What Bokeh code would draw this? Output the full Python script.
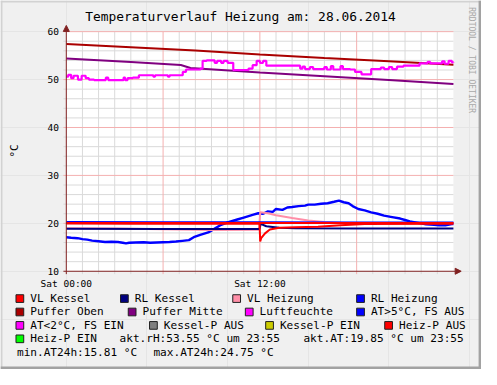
import math
from bokeh.plotting import figure
from bokeh.models import Label, BoxAnnotation, Arrow, NormalHead, Range1d
from bokeh.embed import file_html
from bokeh.resources import INLINE

# ---------------- data (hours of 28.06.2014, °C / %) ----------------
title_text = "Temperaturverlauf Heizung am: 28.06.2014"
y_label_text = "°C"
watermark_text = "RRDTOOL / TOBI OETIKER"
x_tick_hours = [0, 12]
x_tick_labels = ["Sat 00:00", "Sat 12:00"]
x_major_grid = [6, 12, 18]
x_minor_grid = [h for h in range(1, 24) if h % 6]
y_ticks = [10, 20, 30, 40, 50, 60]
y_minor_grid = [v for v in range(12, 60, 2) if v % 10]

h_puffer_oben = [0, 4, 8, 12, 16, 20, 24]
puffer_oben = [57.4, 56.75, 56.05, 55.25, 54.5, 53.8, 53.1]

h_puffer_mitte = [0, 4, 7.1, 7.7, 12, 16, 20, 24]
puffer_mitte = [54.4, 53.65, 53.05, 52.4, 51.5, 50.7, 49.9, 49.1]

h_luft = [0.00, 0.12, 0.30, 0.45, 0.72, 0.95, 1.20, 1.40, 1.72, 2.45, 2.60, 3.55,
          3.65, 3.80, 4.12, 4.50, 5.40, 5.50, 6.30, 6.40, 7.22, 7.42, 8.32, 8.45,
          8.70, 9.20, 9.35, 9.60, 9.75, 10.00, 10.35, 11.30, 11.55, 11.80, 12.00,
          12.20, 12.40, 14.50, 14.65, 14.80, 15.10, 15.30, 16.00, 16.15, 16.40,
          16.55, 17.00, 17.15, 17.60, 17.90, 18.30, 18.90, 19.50, 19.70, 20.00,
          20.20, 20.50, 20.90, 21.90, 22.40, 22.55, 23.00, 23.30, 23.45, 23.70,
          23.90, 24.00]
luftfeuchte = [50.6, 51.0, 50.3, 50.8, 50.0, 50.8, 50.3, 50.0, 49.9, 50.4, 49.9, 50.4,
               49.9, 50.3, 50.4, 50.9, 50.6, 50.9, 50.6, 50.9, 51.6, 52.1, 52.3, 53.9,
               54.0, 53.5, 53.9, 53.5, 53.9, 53.5, 52.0, 52.3, 53.0, 53.9, 53.5,
               53.9, 52.9, 52.3, 52.7, 52.2, 52.6, 52.2, 52.6, 52.1, 52.8,
               52.1, 52.8, 52.2, 52.1, 51.6, 51.1, 52.2, 52.5, 52.2, 52.6,
               52.2, 52.7, 52.9, 53.4, 53.7, 53.4, 53.4, 53.8, 53.3, 53.9,
               53.6, 53.55]

h_at = [0.0, 0.3, 0.7, 1.0, 1.3, 1.6, 2.0, 2.4, 2.8, 3.2, 3.5, 3.7, 3.9, 4.3, 4.8,
        5.2, 5.6, 6.0, 6.4, 6.8, 7.2, 7.6, 7.9, 8.3, 8.8, 9.2, 9.6, 10.0, 10.6, 11.0,
        11.6, 11.9, 12.2, 12.5, 12.8, 13.0, 13.4, 13.7, 14.0, 14.4, 14.8, 15.0, 15.4,
        15.8, 16.2, 16.6, 16.9, 17.2, 17.5, 17.75, 18.1, 18.5, 18.9, 19.3, 19.7, 20.2,
        20.7, 21.0, 21.3, 21.8, 22.3, 22.8, 23.1, 23.5, 23.9, 24.0]
aussen_temp = [17.1, 17.0, 16.9, 16.7, 16.6, 16.4, 16.25, 16.1, 16.15, 16.1, 15.95, 15.81,
               15.95, 16.0, 16.05, 15.95, 16.0, 16.05, 16.1, 16.2, 16.35, 16.5, 17.1, 17.6,
               18.1, 18.9, 19.7, 20.2, 20.8, 21.2, 21.8, 22.1, 22.0, 22.5, 22.4, 23.0,
               22.8, 23.3, 23.4, 23.6, 23.7, 23.9, 23.9, 24.1, 24.2, 24.5, 24.75, 24.4,
               24.2, 23.6, 23.0, 22.7, 22.3, 22.0, 21.6, 21.3, 21.0, 20.7, 20.4, 20.1,
               19.8, 19.7, 19.6, 19.6, 19.85, 19.85]

h_vl_heizung = [0, 3, 6, 9, 11.95, 12.02, 12.5, 13.0, 14.0, 15.0, 16.0, 17.0, 18.0, 24]
vl_heizung = [19.0, 18.9, 18.75, 18.6, 18.65, 22.3, 22.1, 21.7, 21.1, 20.6, 20.3, 20.1, 20.05, 20.05]

h_rl_kessel = [0, 6, 11.98, 12.05, 12.4, 13.2, 14.2, 18, 24]
rl_kessel = [18.85, 18.8, 18.8, 19.9, 19.4, 19.1, 18.95, 18.9, 18.9]

h_rl_heizung = [0, 6, 12, 18, 24]
rl_heizung = [20.3, 20.25, 20.25, 20.2, 20.2]

h_vl_kessel = [0, 4, 8, 11.98, 12.02, 12.08, 12.32, 12.62, 13.2, 14.2, 15.6, 17.0, 18.5, 24]
vl_kessel = [19.95, 19.9, 19.95, 19.9, 16.2, 16.9, 17.9, 18.7, 19.1, 19.2, 19.3, 19.6, 19.85, 19.9]

h_heizp = [0, 24]
heizp_aus = [20.05, 20.05]

legend_names = [
    ["VL Kessel", "RL Kessel", "VL Heizung", "RL Heizung"],
    ["Puffer Oben", "Puffer Mitte", "Luftfeuchte", "AT>5°C, FS AUS"],
    ["AT<2°C, FS EIN", "Kessel-P AUS", "Kessel-P EIN", "Heiz-P AUS"],
    ["Heiz-P EIN"],
]
legend_colors = [
    ["#FF0000", "#000080", "#FF8FA8", "#0000FF"],
    ["#AA0000", "#800080", "#FF00FF", "#0000FF"],
    ["#FF00FF", "#808080", "#CCCC00", "#FF0000"],
    ["#00FF00"],
]
info_row4 = ["akt.rH:53.55 °C um 23:55", "akt.AT:19.85 °C um 23:55"]
info_row5 = ["min.AT24h:15.81 °C", "max.AT24h:24.75 °C"]

# ---------------- layout: reference pixel -> data coordinates ----------------
W, H = 481, 369          # figure size (reference 497 x 385 scaled to fit)
REF_W, REF_H = 497, 385

def X(px):
    return (px - 68) * 24.0 / 400.0

def Y(py):
    return 10 + (282.5 - py) / 5.0

MONO = "DejaVu Sans Mono"
AXIS_COL = "#802020"

p = figure(width=W, height=H, x_range=Range1d(X(0), X(REF_W)), y_range=Range1d(Y(REF_H), Y(0)),
           output_backend="svg", toolbar_location=None, title=None,
           x_axis_location=None, y_axis_location=None, min_border=0,
           background_fill_color="#F0F0F0", border_fill_color="#F0F0F0",
           outline_line_color=None)

# 3D frame of the picture
p.add_layout(BoxAnnotation(left=X(0), right=X(REF_W), top=Y(0), bottom=Y(2), fill_color="#D2D2D2",
                           fill_alpha=1, line_color=None, level="underlay"))
p.add_layout(BoxAnnotation(left=X(0), right=X(2), top=Y(0), bottom=Y(REF_H), fill_color="#D2D2D2",
                           fill_alpha=1, line_color=None, level="underlay"))
p.add_layout(BoxAnnotation(left=X(494), right=X(REF_W), top=Y(0), bottom=Y(REF_H), fill_color="#A2A2A2",
                           fill_alpha=1, line_color=None, level="underlay"))
p.add_layout(BoxAnnotation(left=X(0), right=X(REF_W), top=Y(382), bottom=Y(REF_H), fill_color="#A2A2A2",
                           fill_alpha=1, line_color=None, level="underlay"))
# canvas
p.add_layout(BoxAnnotation(left=0, right=24, bottom=10, top=60, fill_color="white", fill_alpha=1,
                           line_color=None, level="underlay"))

# grid lines
p.segment(x0=x_minor_grid, x1=x_minor_grid, y0=[Y(285.5)] * len(x_minor_grid), y1=[60] * len(x_minor_grid),
          line_color="#DADADA", line_width=1)
p.segment(x0=[X(65)] * len(y_minor_grid), x1=[24] * len(y_minor_grid), y0=y_minor_grid, y1=y_minor_grid,
          line_color="#DADADA", line_width=1)
p.segment(x0=x_major_grid, x1=x_major_grid, y0=[Y(285.5)] * len(x_major_grid), y1=[60] * len(x_major_grid),
          line_color="#F4B0B0", line_width=1)
p.segment(x0=[X(65)] * len(y_ticks[1:]), x1=[24] * len(y_ticks[1:]), y0=y_ticks[1:], y1=y_ticks[1:],
          line_color="#F4B0B0", line_width=1)

# series
p.line(h_puffer_oben, puffer_oben, line_color="#AA0000", line_width=2)
p.line(h_puffer_mitte, puffer_mitte, line_color="#800080", line_width=2)
p.step(h_luft, luftfeuchte, mode="after", line_color="#FF00FF", line_width=2.2)
p.line(h_at, aussen_temp, line_color="#0000FF", line_width=2.4)
p.line(h_vl_heizung, vl_heizung, line_color="#FF8FA8", line_width=2)
p.line(h_rl_kessel, rl_kessel, line_color="#000080", line_width=2)
p.line(h_rl_heizung, rl_heizung, line_color="#0000FF", line_width=2)
p.line(h_heizp, heizp_aus, line_color="#FF0000", line_width=2)
p.line(h_vl_kessel, vl_kessel, line_color="#FF0000", line_width=2)

# axes with arrows
p.add_layout(Arrow(end=NormalHead(size=6, fill_color=AXIS_COL, line_color=AXIS_COL),
                   x_start=X(65), y_start=10, x_end=X(476), y_end=10,
                   line_color=AXIS_COL, line_width=1))
p.add_layout(Arrow(end=NormalHead(size=6, fill_color=AXIS_COL, line_color=AXIS_COL),
                   x_start=0, y_start=Y(285.5), x_end=0, y_end=Y(26),
                   line_color=AXIS_COL, line_width=1))

# tick labels
for v in y_ticks:
    p.add_layout(Label(x=X(60.5), y=v, text=str(v), text_align="right", text_baseline="middle",
                       text_font=MONO, text_font_size="9.5px", text_color="black"))
for h, t in zip(x_tick_hours, x_tick_labels):
    p.add_layout(Label(x=h, y=Y(295), text=t, text_align="center", text_baseline="middle",
                       text_font=MONO, text_font_size="9.5px", text_color="black"))

# title, axis label, watermark
p.add_layout(Label(x=X(248), y=Y(17), text=title_text, text_align="center",
                   text_baseline="middle", text_font=MONO, text_font_size="12.9px",
                   text_color="black"))
p.add_layout(Label(x=X(14.5), y=Y(157), text=y_label_text, angle=math.pi / 2, text_align="center",
                   text_baseline="middle", text_font=MONO, text_font_size="11px",
                   text_color="black"))
p.add_layout(Label(x=X(486.5), y=Y(7), text=watermark_text, angle=-math.pi / 2,
                   text_align="left", text_baseline="middle", text_font=MONO,
                   text_font_size="8px", text_color="#A8A8A8"))

# legend
sq_left = [[16, 124, 240, 368], [16, 132, 253, 368], [16, 154, 274, 397], [16]]
row_y = [311, 325, 339, 353, 367]
for r, names in enumerate(legend_names):
    for c, name in enumerate(names):
        lx = sq_left[r][c]
        cy = row_y[r]
        p.add_layout(BoxAnnotation(left=X(lx), right=X(lx + 8), top=Y(cy - 4), bottom=Y(cy + 4),
                                   fill_color=legend_colors[r][c], fill_alpha=1.0,
                                   line_color="#202020", line_width=1, line_alpha=1.0))
        p.add_layout(Label(x=X(lx + 14.7), y=Y(cy), text=name, text_align="left",
                           text_baseline="middle", text_font=MONO, text_font_size="11.1px",
                           text_color="black"))
for txt, px in zip(info_row4, [123, 313]):
    p.add_layout(Label(x=X(px), y=Y(row_y[3]), text=txt, text_align="left",
                       text_baseline="middle", text_font=MONO, text_font_size="11.1px",
                       text_color="black"))
for txt, px in zip(info_row5, [17, 158]):
    p.add_layout(Label(x=X(px), y=Y(row_y[4]), text=txt, text_align="left",
                       text_baseline="middle", text_font=MONO, text_font_size="11.1px",
                       text_color="black"))

open("out.html", "w").write(file_html(p, INLINE))
